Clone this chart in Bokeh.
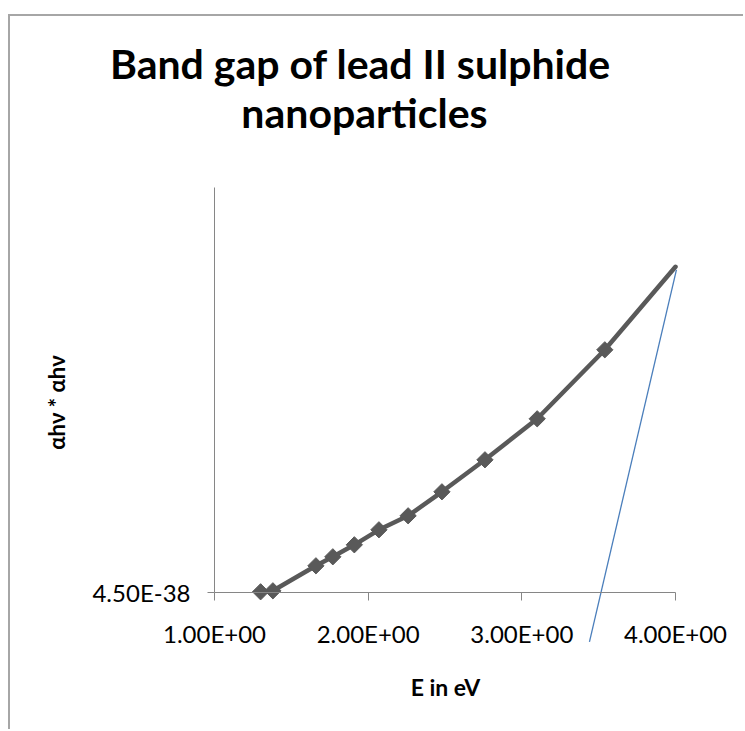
from bokeh.plotting import figure
from bokeh.models import (Range1d, FixedTicker, CustomJSTickFormatter,
                          Label, ColumnDataSource)
from bokeh.embed import file_html
from bokeh.resources import INLINE

# ---- data ----
energy_ev = [1.30, 1.38, 1.66, 1.77, 1.91, 2.07, 2.26, 2.48, 2.76, 3.10, 3.54, 4.00]
ahv_squared = [4.51e-38, 4.52e-38, 4.77e-38, 4.86e-38, 4.98e-38, 5.13e-38,
               5.27e-38, 5.51e-38, 5.83e-38, 6.24e-38, 6.93e-38, 7.76e-38]
marker_count = 11  # the last curve point has no marker
tangent_x = [3.44, 4.006]
tangent_y = [4.01e-38, 7.73e-38]
x_ticks = [1.0, 2.0, 3.0, 4.0]
y_ticks = [4.5e-38]
x_axis_limits = (1.0, 4.0)
y_axis_limits = (4.5e-38, 8.553e-38)

title_line1 = "Band gap of lead II sulphide"
title_line2 = "nanoparticles"
x_title = "E in eV"
y_title = "αhν * αhν"

FONT = "Lato"
AXIS_GREY = "#868686"
SERIES_GREY = "#595959"
TEXT = "#000000"

# The whole chart area is the plotting frame; the axes sit inside it at
# fixed positions, so the tangent line and markers may cross the axis lines.
p = figure(width=735, height=715,
           x_range=Range1d(-0.3275, 4.4555), y_range=Range1d(3.113e-38, 10.263e-38),
           output_backend="svg", toolbar_location=None,
           min_border=0, min_border_left=0, min_border_right=0,
           min_border_top=0, min_border_bottom=0,
           background_fill_color="white", border_fill_color="white")
p.styles = {"border-left": "2px solid #a6a6a6",
            "border-top": "2px solid #a6a6a6",
            "margin-left": "8px",
            "margin-top": "14px"}
p.outline_line_color = None
p.grid.visible = False
p.title.visible = False

fmt = CustomJSTickFormatter(code="""
    const s = tick.toExponential(2);
    const parts = s.split("e");
    const sign = parts[1][0];
    let d = parts[1].slice(1);
    if (d.length < 2) { d = "0" + d; }
    return parts[0] + "E" + sign + d;
""")

xa = p.xaxis[0]
xa.fixed_location = y_axis_limits[0]
xa.bounds = x_axis_limits
xa.ticker = FixedTicker(ticks=x_ticks, minor_ticks=[])
xa.formatter = fmt
xa.axis_line_color = AXIS_GREY
xa.major_tick_line_color = AXIS_GREY
xa.major_tick_out = 8
xa.major_tick_in = 0
xa.minor_tick_line_color = None
xa.major_label_text_font = FONT
xa.major_label_text_font_size = "24px"
xa.major_label_text_color = TEXT
xa.major_label_standoff = 18

ya = p.yaxis[0]
ya.fixed_location = x_axis_limits[0]
ya.bounds = y_axis_limits
ya.ticker = FixedTicker(ticks=y_ticks, minor_ticks=[])
ya.formatter = fmt
ya.axis_line_color = AXIS_GREY
ya.major_tick_line_color = AXIS_GREY
ya.major_tick_out = 7
ya.major_tick_in = 0
ya.minor_tick_line_color = None
ya.major_label_text_font = FONT
ya.major_label_text_font_size = "24px"
ya.major_label_text_color = TEXT
ya.major_label_standoff = 17

curve = ColumnDataSource(dict(x=energy_ev, y=ahv_squared))
markers = ColumnDataSource(dict(x=energy_ev[:marker_count], y=ahv_squared[:marker_count]))

p.line("x", "y", source=curve, line_color=SERIES_GREY, line_width=4.5,
       line_join="round", line_cap="round")
p.scatter("x", "y", source=markers, marker="square", angle=0.785398,
          size=11.5, fill_color=SERIES_GREY, line_color=SERIES_GREY)

tangent = ColumnDataSource(dict(x=tangent_x, y=tangent_y))
p.line("x", "y", source=tangent, line_color="#4a7ebb", line_width=1.3)

# chart title (two lines) and axis titles
p.add_layout(Label(x=1.950, y=9.793e-38, text=title_line1, text_align="center",
                   text_baseline="alphabetic", text_font=FONT,
                   text_font_size="41px", text_font_style="bold", text_color=TEXT))
p.add_layout(Label(x=1.976, y=9.303e-38, text=title_line2, text_align="center",
                   text_baseline="alphabetic", text_font=FONT,
                   text_font_size="41px", text_font_style="bold", text_color=TEXT))
p.add_layout(Label(x=2.503, y=3.563e-38, text=x_title, text_align="center",
                   text_baseline="alphabetic", text_font=FONT,
                   text_font_size="23px", text_font_style="bold", text_color=TEXT))
p.add_layout(Label(x=-0.027, y=6.403e-38, text=y_title, angle=1.5708,
                   text_align="center", text_baseline="middle", text_font=FONT,
                   text_font_size="22px", text_font_style="bold", text_color=TEXT))

open("out.html", "w").write(file_html(p, INLINE))
